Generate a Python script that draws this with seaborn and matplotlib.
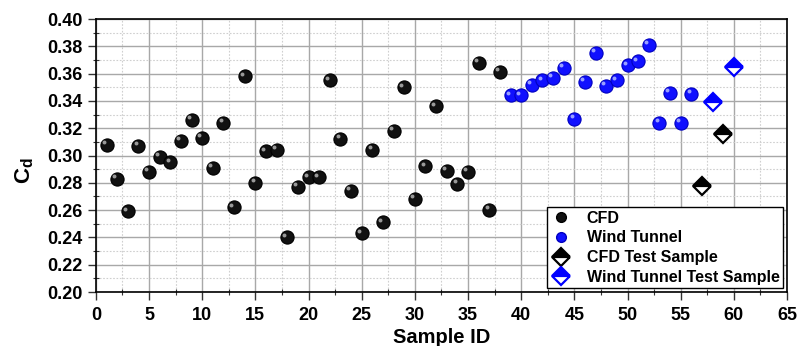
import matplotlib
matplotlib.use("Agg")
import matplotlib.pyplot as plt
from matplotlib.transforms import ScaledTranslation
from matplotlib.lines import Line2D
from matplotlib.ticker import MultipleLocator
import seaborn as sns
import pandas as pd

# ---- data ----
cfd_id = [1, 2, 3, 4, 5, 6, 7, 8, 9, 10, 11, 12, 13, 14, 15, 16, 17, 18, 19,
          20, 21, 22, 23, 24, 25, 26, 27, 28, 29, 30, 31, 32, 33, 34, 35, 36, 37, 38]
cfd_cd = [0.308, 0.283, 0.259, 0.307, 0.288, 0.299, 0.295, 0.311, 0.326, 0.313,
          0.291, 0.324, 0.262, 0.358, 0.280, 0.303, 0.304, 0.240, 0.277, 0.284,
          0.284, 0.355, 0.312, 0.274, 0.243, 0.304, 0.251, 0.318, 0.350, 0.268,
          0.292, 0.336, 0.289, 0.279, 0.288, 0.368, 0.260, 0.361]
wt_id = [39, 40, 41, 42, 43, 44, 45, 46, 47, 48, 49, 50, 51, 52, 53, 54, 55, 56]
wt_cd = [0.344, 0.344, 0.352, 0.355, 0.357, 0.364, 0.327, 0.354, 0.375, 0.351,
         0.355, 0.366, 0.369, 0.381, 0.324, 0.346, 0.324, 0.345]
cfd_test_id = [57, 59]
cfd_test_cd = [0.278, 0.316]
wt_test_id = [58, 60]
wt_test_cd = [0.339, 0.365]

legend_labels = ["CFD", "Wind Tunnel", "CFD Test Sample", "Wind Tunnel Test Sample"]

cfd = pd.DataFrame({"id": cfd_id, "cd": cfd_cd})
wt = pd.DataFrame({"id": wt_id, "cd": wt_cd})
cfdt = pd.DataFrame({"id": cfd_test_id, "cd": cfd_test_cd})
wtt = pd.DataFrame({"id": wt_test_id, "cd": wt_test_cd})

sns.set_style("ticks")
plt.rcParams["font.family"] = ["Liberation Sans", "DejaVu Sans"]
plt.rcParams["font.weight"] = "bold"
plt.rcParams["text.color"] = "black"
plt.rcParams["axes.labelcolor"] = "black"
plt.rcParams["xtick.color"] = "black"
plt.rcParams["ytick.color"] = "black"
plt.rcParams["xtick.labelcolor"] = "black"
plt.rcParams["ytick.labelcolor"] = "black"
plt.rcParams["mathtext.fontset"] = "custom"
plt.rcParams["mathtext.bf"] = "Liberation Sans:bold"
plt.rcParams["mathtext.rm"] = "Liberation Sans:bold"

fig = plt.figure(figsize=(7.99, 3.46), dpi=100)
ax = fig.add_axes([0.120, 0.156, 0.865, 0.789])

ax.set_xlim(0, 65)
ax.set_ylim(0.20, 0.40)
ax.xaxis.set_major_locator(MultipleLocator(5))
ax.xaxis.set_minor_locator(MultipleLocator(2.5))
ax.yaxis.set_major_locator(MultipleLocator(0.02))
ax.yaxis.set_minor_locator(MultipleLocator(0.01))
ax.grid(which="major", color="#a8a8a8", lw=1.0, ls="-")
ax.grid(which="minor", color="#cfcfcf", lw=0.8, ls=(0, (1.5, 1.5)))
ax.set_axisbelow(True)

msize = 90
hl = ScaledTranslation(-2 / 72, 2 / 72, fig.dpi_scale_trans)

sns.scatterplot(data=cfd, x="id", y="cd", ax=ax, s=msize, color="#111111",
                edgecolor="black", linewidth=0.8, zorder=3, legend=False)
sns.scatterplot(data=cfd, x="id", y="cd", ax=ax, s=8, color="#9a9a9a",
                linewidth=0, zorder=4, legend=False, transform=ax.transData + hl)
sns.scatterplot(data=wt, x="id", y="cd", ax=ax, s=msize, color="#1010ff",
                edgecolor="#0000c0", linewidth=0.8, zorder=3, legend=False)
sns.scatterplot(data=wt, x="id", y="cd", ax=ax, s=8, color="#9aa0ff",
                linewidth=0, zorder=4, legend=False, transform=ax.transData + hl)

sns.lineplot(data=cfdt, x="id", y="cd", ax=ax, linestyle="", marker="D",
             markersize=9, fillstyle="top", markerfacecolor="black",
             markerfacecoloralt="white", markeredgecolor="black",
             markeredgewidth=1.6, zorder=5)
sns.lineplot(data=wtt, x="id", y="cd", ax=ax, linestyle="", marker="D",
             markersize=9, fillstyle="top", markerfacecolor="#0000ff",
             markerfacecoloralt="white", markeredgecolor="#0000ff",
             markeredgewidth=1.6, zorder=5)

for s in ax.spines.values():
    s.set_color("black")
    s.set_linewidth(1.2)

ax.tick_params(axis="both", which="major", direction="out", length=6, width=1.0,
               labelsize=13, color="#333333", labelcolor="black")
ax.tick_params(axis="x", which="major", pad=4.5)
ax.tick_params(axis="both", which="minor", direction="inout", length=5, width=0.8,
               color="#333333")
for lab in ax.get_xticklabels() + ax.get_yticklabels():
    lab.set_fontweight("bold")
ax.yaxis.set_major_formatter(matplotlib.ticker.FormatStrFormatter("%.2f"))

ax.set_xlabel("Sample ID", fontsize=14.5, fontweight="bold", labelpad=3, color="black")
ax.set_ylabel(r"$\mathbf{C_d}$", fontsize=16, color="black")
ax.yaxis.set_label_coords(-0.086, 0.445)

handles = [
    Line2D([], [], ls="", marker="o", markersize=7, color="#111111", markeredgecolor="black"),
    Line2D([], [], ls="", marker="o", markersize=7, color="#1010ff", markeredgecolor="#0000c0"),
    Line2D([], [], ls="", marker="D", markersize=9, fillstyle="top", markerfacecolor="black",
           markerfacecoloralt="white", markeredgecolor="black", markeredgewidth=1.6),
    Line2D([], [], ls="", marker="D", markersize=9, fillstyle="top", markerfacecolor="#0000ff",
           markerfacecoloralt="white", markeredgecolor="#0000ff", markeredgewidth=1.6),
]
leg = ax.legend(handles, legend_labels, loc="lower right", bbox_to_anchor=(0.994, 0.014),
                frameon=True, fancybox=False, edgecolor="black", framealpha=1,
                prop={"weight": "bold", "size": 11.5}, handletextpad=0.9,
                labelspacing=0.3, borderpad=0.2, handlelength=1.4,
                borderaxespad=0.0, labelcolor="black")
leg.get_frame().set_linewidth(1.0)

fig.savefig("out.png", dpi=100)
